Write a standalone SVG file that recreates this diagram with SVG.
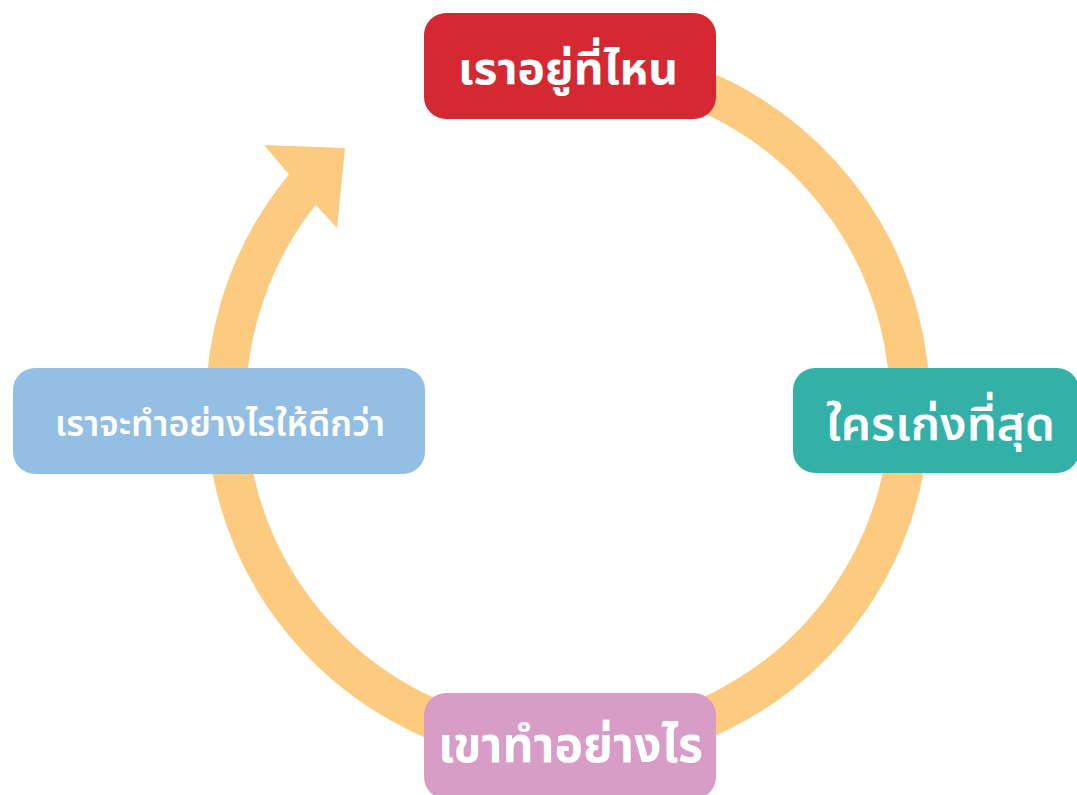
<svg xmlns="http://www.w3.org/2000/svg" width="1077" height="795" viewBox="0 0 1077 795">
  <style>
    .ring { fill: none; stroke: #FCCB80; stroke-width: 40; }
    .head { fill: #FCCB80; }
    .label { fill: #FFFFFF; font-family: "Noto Sans Thai", "Noto Sans Thai UI", "Noto Sans", "DejaVu Sans", sans-serif; text-anchor: middle; }
  </style>
  <rect width="1077" height="795" fill="#FFFFFF"/>

  <!-- cycle ring with arrowhead -->
  <g id="connectors">
    <path class="ring" d="M 538.2 64.3 A 342 342 0 1 1 309.9 180.6"/>
    <polygon class="head" points="264,145 345,148 337,228 314,203 287,172"/>
  </g>

  <g id="node-top">
    <rect x="424" y="13" width="292" height="106" rx="22" fill="#D62832"/>
    <text class="label" x="568" y="84" font-size="45" font-weight="700" textLength="220" lengthAdjust="spacingAndGlyphs">เราอยู่ที่ไหน</text>
  </g>

  <g id="node-right">
    <rect x="793" y="368" width="286" height="105" rx="22" fill="#33B1A8"/>
    <text class="label" x="940.5" y="440" font-size="47" font-weight="600" textLength="229" lengthAdjust="spacingAndGlyphs">ใครเก่งที่สุด</text>
  </g>

  <g id="node-bottom">
    <rect x="424" y="693" width="292" height="106" rx="22" fill="#D89DC6"/>
    <text class="label" x="570.5" y="762" font-size="49" font-weight="700" textLength="265" lengthAdjust="spacingAndGlyphs">เขาทำอย่างไร</text>
  </g>

  <g id="node-left">
    <rect x="13" y="368" width="412" height="106" rx="22" fill="#92BFE3"/>
    <text class="label" x="220" y="436" font-size="35" font-weight="600" textLength="330" lengthAdjust="spacingAndGlyphs">เราจะทำอย่างไรให้ดีกว่า</text>
  </g>
</svg>
